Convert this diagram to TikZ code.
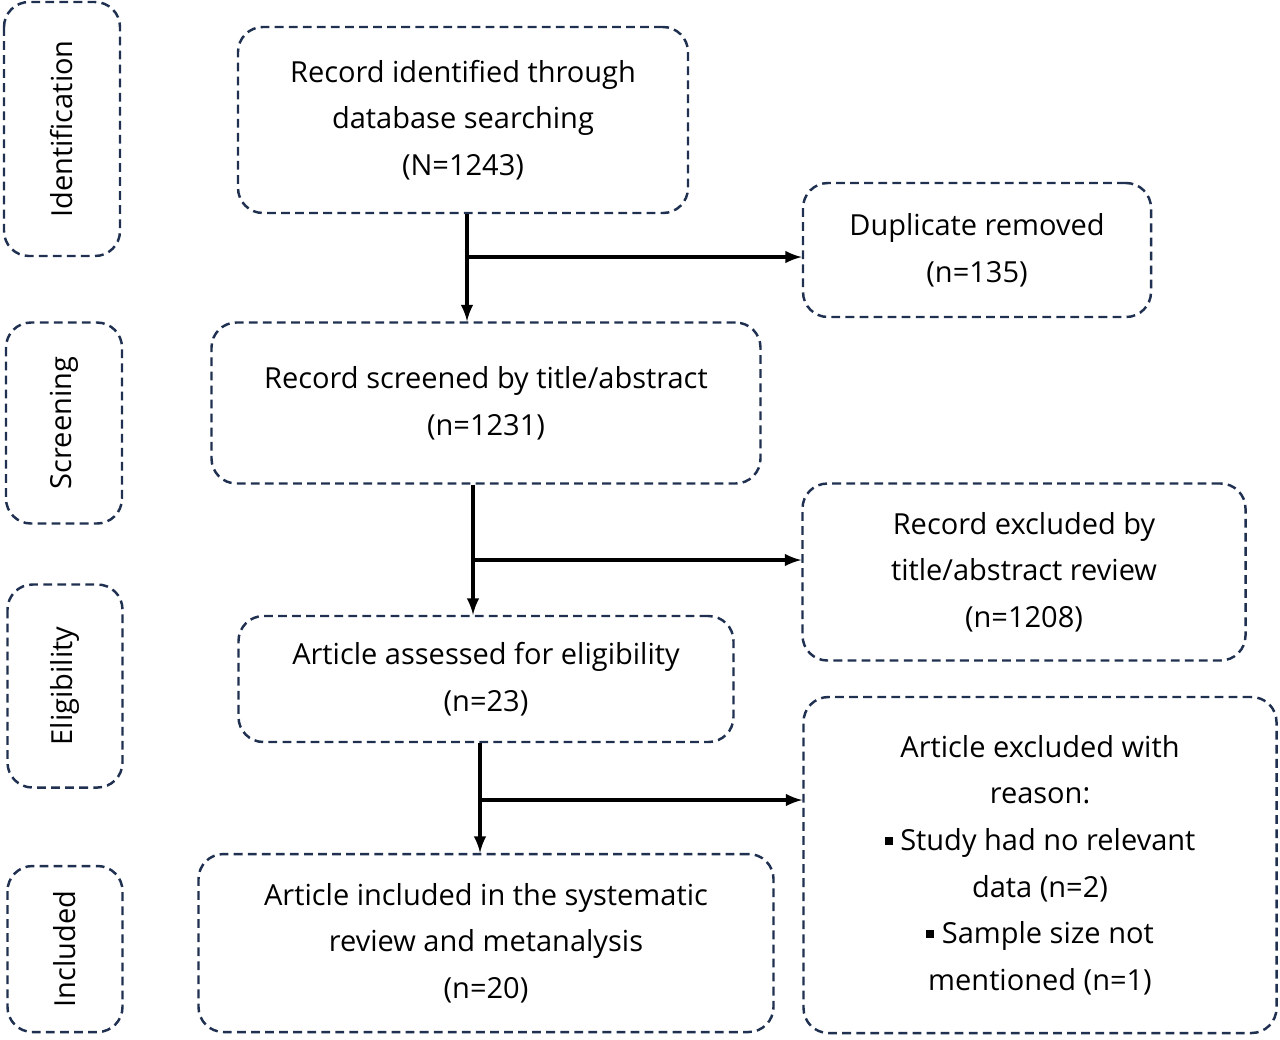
\documentclass[tikz,border=0pt]{standalone}
\usepackage{fontspec}
\setmainfont{Open Sans}
\usetikzlibrary{arrows}
\definecolor{navy}{HTML}{1F3050}
\newcommand{\sq}{\rule[0.2em]{0.28em}{0.28em}\ }
\begin{document}
\begin{tikzpicture}[x=0.02cm,y=-0.02cm,>=latex]
\tikzstyle{box} = [draw=navy, dashed, dash pattern=on 5pt off 3pt, line width=1.4pt, rounded corners=0.5cm, align=center, font=\fontsize{16.5}{26.5}\selectfont, inner sep=0pt]
\tikzstyle{stage} = [box, rotate=90]
\tikzstyle{flow} = [->, line width=2.2pt]
\useasboundingbox (0,0) rectangle (1280,1039);

    % stage labels on the left
    \node [stage, minimum width=254*0.02cm, minimum height=116*0.02cm] (ident) at (62,129) {Identification};
    \node [stage, minimum width=201*0.02cm, minimum height=116*0.02cm] (screen) at (64,423) {Screening};
    \node [stage, minimum width=203*0.02cm, minimum height=115*0.02cm] (elig) at (65,686) {Eligibility};
    \node [stage, minimum width=166*0.02cm, minimum height=115*0.02cm] (incl) at (65,949) {Included};

    % main boxes
    \node [box, minimum width=450*0.02cm, minimum height=186*0.02cm] (identified) at (463,120) {Record identified through\\database searching\\(N=1243)};
    \node [box, minimum width=348*0.02cm, minimum height=134*0.02cm] (duplicate) at (977,250) {Duplicate removed\\(n=135)};
    \node [box, minimum width=549*0.02cm, minimum height=161*0.02cm] (screened) at (486,403) {Record screened by title/abstract\\(n=1231)};
    \node [box, minimum width=443*0.02cm, minimum height=177*0.02cm] (excluded) at (1024,572) {Record excluded by\\title/abstract review\\(n=1208)};
    \node [box, minimum width=495*0.02cm, minimum height=126*0.02cm] (assessed) at (486,679) {Article assessed for eligibility\\(n=23)};
    \node [box, minimum width=473*0.02cm, minimum height=336*0.02cm] (reason) at (1040,865) {Article excluded with\\reason:\\\sq Study had no relevant\\data (n=2)\\\sq Sample size not\\mentioned (n=1)};
    \node [box, minimum width=575*0.02cm, minimum height=178*0.02cm] (included) at (486,943) {Article included in the systematic\\review and metanalysis\\(n=20)};

    % connectors
    \coordinate (j1) at (467,257);
    \coordinate (j2) at (473,560);
    \coordinate (j3) at (480,800);
    \draw [flow] (identified.south -| j1) -- (screened.north -| j1);
    \draw [flow] (j1) -- (j1 -| duplicate.west);
    \draw [flow] (screened.south -| j2) -- (assessed.north -| j2);
    \draw [flow] (j2) -- (j2 -| excluded.west);
    \draw [flow] (assessed.south -| j3) -- (included.north -| j3);
    \draw [flow] (j3) -- (j3 -| reason.west);
\end{tikzpicture}
\end{document}
